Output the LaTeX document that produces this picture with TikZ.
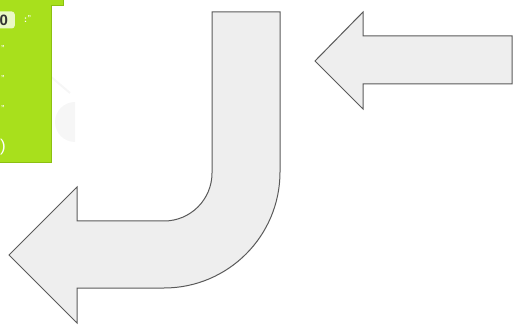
\documentclass[tikz,border=0pt]{standalone}
\usepackage{fontspec}
\setmainfont{Liberation Sans}
\usepackage{xcolor}
\usepackage{tikz}
\usetikzlibrary{positioning}
\definecolor{Pgreen}{HTML}{A8E01C}
\definecolor{Pedge}{HTML}{8CC010}
\definecolor{Pfield}{HTML}{EAF8C6}
\definecolor{Afill}{HTML}{EEEEEE}
\definecolor{Aline}{HTML}{5A5A5A}
\definecolor{Wmark}{HTML}{F6F6F6}

\begin{document}
\begin{tikzpicture}[
  x=1pt, y=-1pt,
  bigarrow/.style={fill=Afill, draw=Aline, line width=1pt, line join=miter},
  tick/.style={text=white, font=\scriptsize\bfseries, inner sep=0pt},
]
\useasboundingbox (0,0) rectangle (513,328);
\clip (0,0) rectangle (513,328);

% ── faint background marks ───────────────────────────────────────────
\draw[Wmark, line width=2pt] (50,76) -- (70,93);
\fill[Wmark] (75,102) arc[start angle=270, end angle=90, radius=20] -- cycle;

% ── green block panel (cut off at the left) ──────────────────────────
\fill[Pgreen] (-2,0) rectangle (63,5);
\draw[Pedge, line width=0.8pt] (-2,5) -- (63,5) -- (63,-2);
\fill[Pgreen] (-2,5) rectangle (51,162);
\draw[Pedge, line width=0.8pt] (51,5) -- (51,162) -- (-2,162);
\node[fill=Pfield, rounded corners=3pt, minimum width=22pt, minimum height=17pt,
      inner sep=0pt, anchor=east, font=\fontsize{15}{15}\selectfont\bfseries,
      text=black!80] (num) at (15,20) {0};
\node[tick, right=9pt of num, font=\small\bfseries] (sep) {:};
\node[tick, above right=-3pt and 0pt of sep] (q1) {''};
\node[tick] (q2) at (3,48) {''};
\node[tick] (q3) at (3,78) {''};
\node[tick] (q4) at (3,108) {''};
\node[tick, font=\fontsize{17}{17}\selectfont] (paren) at (3,147) {)};

% ── J-shaped arrow ───────────────────────────────────────────────────
\draw[bigarrow] (212,12) -- (280,12) -- (280,172)
  arc[start angle=0, end angle=90, radius=116] -- (77,288) -- (77,323)
  -- (9,255) -- (77,187) -- (77,221) -- (164,221)
  arc[start angle=90, end angle=0, radius=48] -- cycle;

% ── straight arrow ───────────────────────────────────────────────────
\draw[bigarrow] (315,61) -- (363,12) -- (363,36) -- (512,36) -- (512,84)
  -- (363,84) -- (363,109) -- cycle;

\end{tikzpicture}
\end{document}
